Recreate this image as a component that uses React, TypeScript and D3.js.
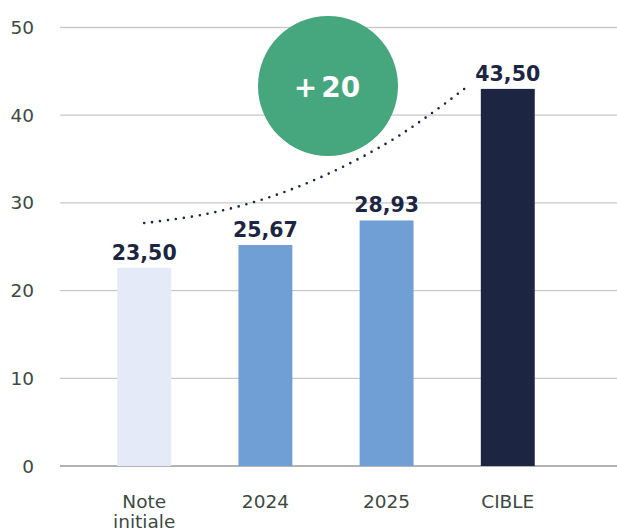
import React from 'react';
import * as d3 from 'd3';

const categories = ['Note initiale', '2024', '2025', 'CIBLE'];
const values = [22.6, 25.2, 28.0, 43.0];
const valueLabels = ['23,50', '25,67', '28,93', '43,50'];
const barColors = ['#e4eaf7', '#6f9fd5', '#6f9fd5', '#1c2642'];
const yTicks = [0, 10, 20, 30, 40, 50];
// dotted trend: [position in category steps, value]
const trend: [number, number][] = [
  [0, 27.7],
  [0.5, 28.7],
  [1.0, 30.5],
  [1.5, 33.2],
  [2.0, 36.8],
  [2.35, 40.0],
  [2.65, 43.1],
];
const badgeSign = '+';
const badgeValue = '20';

const width = 617;
const height = 531;
const font = '"DejaVu Sans", sans-serif';
const navy = '#1c2642';

const App: React.FC = () => {
  const x = d3.scaleBand<string>().domain(categories).range([50, 602]).padding(0.555);
  const y = d3.scaleLinear().domain([0, 50]).range([466, 27.5]);

  const center0 = (x(categories[0]) ?? 0) + x.bandwidth() / 2;
  const trendLine = d3
    .line<[number, number]>()
    .x((d) => center0 + d[0] * x.step())
    .y((d) => y(d[1]))
    .curve(d3.curveCatmullRom);

  return (
    <div style={{ position: 'absolute', left: 0, top: 0 }}>
      <svg width={width} height={height} style={{ display: 'block' }}>
        {/* grid */}
        {yTicks.map((t) => (
          <g key={t}>
            <line
              x1={60}
              x2={617}
              y1={y(t)}
              y2={y(t)}
              stroke={t === 0 ? '#9a9a9a' : '#c9c9c9'}
              strokeWidth={1.3}
            />
            <text
              x={34}
              y={y(t) + 6.5}
              textAnchor="end"
              fontFamily={font}
              fontSize={18.5}
              fill="#3c4a43"
            >
              {t}
            </text>
          </g>
        ))}

        {/* bars */}
        {categories.map((c, i) => (
          <rect
            key={c}
            x={x(c)}
            y={y(values[i])}
            width={x.bandwidth()}
            height={y(0) - y(values[i])}
            fill={barColors[i]}
          />
        ))}

        {/* value labels */}
        {categories.map((c, i) => (
          <text
            key={c}
            x={(x(c) ?? 0) + x.bandwidth() / 2}
            y={y(values[i]) - 8}
            textAnchor="middle"
            fontFamily={font}
            fontWeight="bold"
            fontSize={20.5}
            fill={navy}
          >
            {valueLabels[i]}
          </text>
        ))}

        {/* x labels */}
        {categories.map((c) => {
          const words = c.split(' ');
          const cx = (x(c) ?? 0) + x.bandwidth() / 2;
          return (
            <text
              key={c}
              x={cx}
              y={508}
              textAnchor="middle"
              fontFamily={font}
              fontSize={18.5}
              fill="#3c4a43"
            >
              {words.map((w, k) => (
                <tspan key={k} x={cx} dy={k === 0 ? 0 : 20}>
                  {w}
                </tspan>
              ))}
            </text>
          );
        })}

        {/* trend */}
        <path
          d={trendLine(trend) ?? ''}
          fill="none"
          stroke={navy}
          strokeWidth={2.6}
          strokeLinecap="round"
          strokeDasharray="0 8"
        />

        {/* badge */}
        <circle cx={328} cy={86} r={70} fill="#46a67d" />
        <text
          x={327}
          y={97}
          textAnchor="middle"
          fontFamily={font}
          fontWeight="bold"
          fontSize={28}
          fill="#ffffff"
        >
          <tspan>{badgeSign}</tspan>
          <tspan dx={4}>{badgeValue}</tspan>
        </text>
      </svg>
    </div>
  );
};

export default App;
